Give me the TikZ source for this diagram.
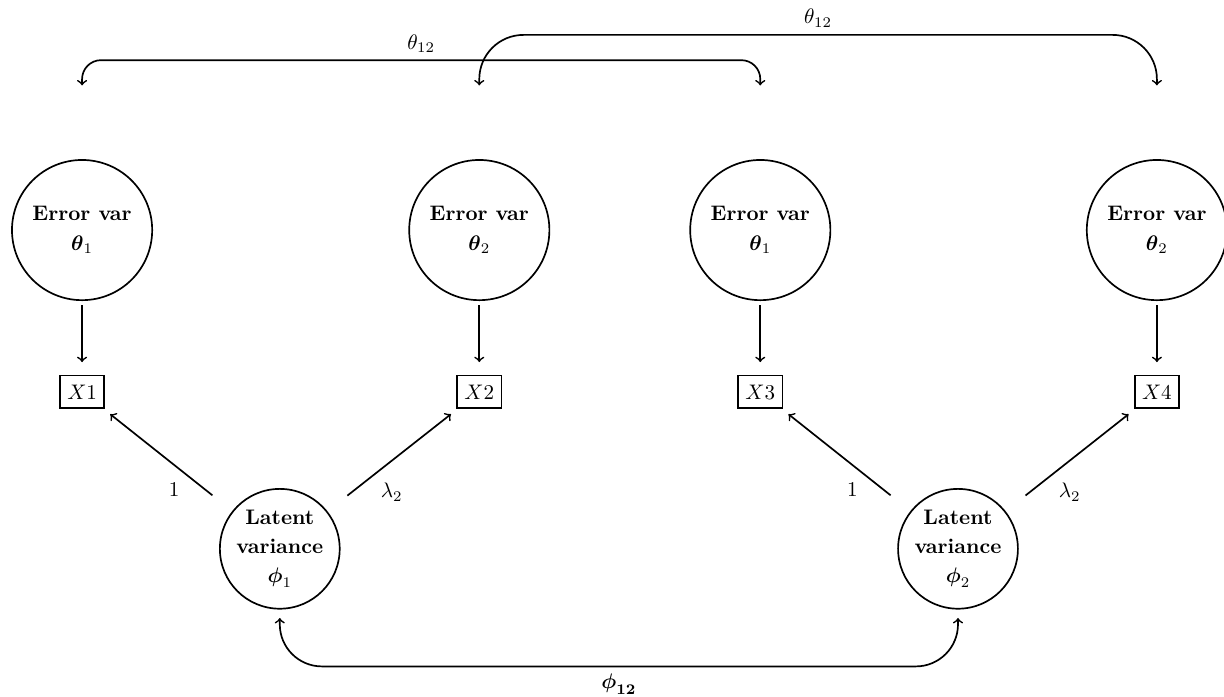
\documentclass[tikz,border=0pt]{standalone}
\usepackage{amsmath,amssymb}
\usepackage{tikz}
\usetikzlibrary{calc}

\tikzset{
  errvar/.style={draw, circle, minimum size=2.34cm, inner sep=0pt, align=center, font=\linespread{1.2}\selectfont\bfseries},
  latent/.style={draw, circle, minimum size=2cm, inner sep=0pt, align=center, font=\linespread{1.15}\selectfont\bfseries},
  obs/.style={draw, rectangle, inner xsep=3.5pt, inner ysep=4.3pt},
}

\begin{document}
\begin{tikzpicture}[thick, >=to]
    \useasboundingbox (0,0) rectangle (20.43,-11.62);

    % Error variances
    \node[errvar] (E1) at (1.37,-3.84) {Error var\\$\boldsymbol{\theta}_1$};
    \node[errvar] (E2) at (8.00,-3.84) {Error var\\$\boldsymbol{\theta}_2$};
    \node[errvar] (E3) at (12.69,-3.84) {Error var\\$\boldsymbol{\theta}_1$};
    \node[errvar] (E4) at (19.31,-3.84) {Error var\\$\boldsymbol{\theta}_2$};

    % Observed variables
    \node[obs] (X1) at (1.37,-6.54) {$X1$};
    \node[obs] (X2) at (8.00,-6.54) {$X2$};
    \node[obs] (X3) at (12.69,-6.54) {$X3$};
    \node[obs] (X4) at (19.31,-6.54) {$X4$};

    % Latent variables
    \node[latent] (L1) at (4.67,-9.16) {Latent\\variance\\$\boldsymbol{\phi}_1$};
    \node[latent] (L2) at (15.99,-9.16) {Latent\\variance\\$\boldsymbol{\phi}_2$};

    % Error paths
    \draw[->, shorten <=2pt, shorten >=6pt] (E1) -- (X1);
    \draw[->, shorten <=2pt, shorten >=6pt] (E2) -- (X2);
    \draw[->, shorten <=2pt, shorten >=6pt] (E3) -- (X3);
    \draw[->, shorten <=2pt, shorten >=6pt] (E4) -- (X4);

    % Loadings
    \draw[->, shorten <=12pt, shorten >=4pt] (L1) -- node[pos=0.35, below left] {$1$} (X1);
    \draw[->, shorten <=12pt, shorten >=4pt] (L1) -- node[pos=0.35, below right] {$\lambda_2$} (X2);
    \draw[->, shorten <=12pt, shorten >=4pt] (L2) -- node[pos=0.35, below left] {$1$} (X3);
    \draw[->, shorten <=12pt, shorten >=4pt] (L2) -- node[pos=0.35, below right] {$\lambda_2$} (X4);

    % Covariances
    \coordinate (T1) at ([yshift=35pt]E1.north);
    \coordinate (T2) at ([yshift=35pt]E2.north);
    \coordinate (T3) at ([yshift=35pt]E3.north);
    \coordinate (T4) at ([yshift=35pt]E4.north);

    \draw[<->, rounded corners=9pt] (T1) -- ++(0,12pt) -| node[pos=0.25, above] {$\theta_{12}$} (T3);
    \draw[<->, rounded corners=21pt] (T2) -- ++(0,24pt) -| node[pos=0.25, above] {$\theta_{12}$} (T4);
    \draw[<->, rounded corners=20pt, shorten <=4pt, shorten >=4pt] (L1.south) -- ++(0,-27pt) -| node[pos=0.25, below] {$\boldsymbol{\phi}_{\mathbf{12}}$} (L2.south);
\end{tikzpicture}
\end{document}
